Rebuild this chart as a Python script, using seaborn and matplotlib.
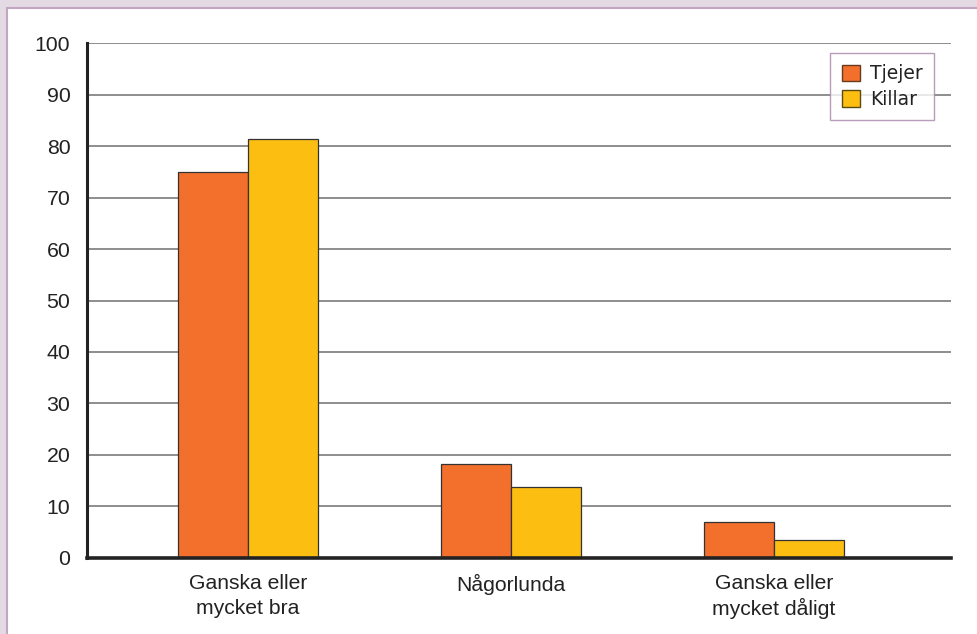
import numpy as np
import pandas as pd
import matplotlib
matplotlib.use("Agg")
import matplotlib.pyplot as plt
import matplotlib.patches as mpatches
import seaborn as sns

categories = ["Ganska eller\nmycket bra", "Någorlunda", "Ganska eller\nmycket dåligt"]
tjejer = [75, 18.2, 6.9]
killar = [81.3, 13.7, 3.4]
series = ["Tjejer", "Killar"]
yticks = [0, 10, 20, 30, 40, 50, 60, 70, 80, 90, 100]

ORANGE = "#f26f2c"
YELLOW = "#fdbe12"
EDGE = "#333333"
BG = "#e4dae4"
FRAME = "#c2a6c2"

sns.set_style("white")
plt.rcParams["font.family"] = ["Liberation Sans", "DejaVu Sans"]

df = pd.DataFrame({
    "kategori": categories * 2,
    "grupp": [series[0]] * 3 + [series[1]] * 3,
    "varde": tjejer + killar,
})

fig = plt.figure(figsize=(9.77, 6.34), dpi=100, facecolor=BG)
# white panel with thin mauve border
fig.patches.append(mpatches.Rectangle((7 / 977, -0.05), 1.1, (634 - 8) / 634 + 0.05,
                                      transform=fig.transFigure, facecolor="white",
                                      edgecolor=FRAME, lw=1.5, zorder=-5))

ax = fig.add_axes([87 / 977, (634 - 557.7) / 634, (951 - 87) / 977, 514.4 / 634])
ax.set_facecolor("none")
ax.set_zorder(2)

sns.barplot(data=df, x="kategori", y="varde", hue="grupp", ax=ax,
            palette=[ORANGE, YELLOW], saturation=1, width=0.532, gap=0,
            edgecolor=EDGE, linewidth=0.9, zorder=3)

ax.set_ylim(0, 100)
ax.set_xlim(-0.612, 2.673)
ax.set_yticks(yticks)
ax.set_yticklabels([str(t) for t in yticks], fontsize=15.3, color="#222222")
ax.tick_params(axis="y", length=0, pad=12)
ax.tick_params(axis="x", length=0, pad=12, labelsize=15.2, labelcolor="#222222")
for lbl in ax.get_xticklabels():
    lbl.set_linespacing(1.25 if "å" in lbl.get_text() and "\n" in lbl.get_text() else 1.4)
ax.set_xlabel("")
ax.set_ylabel("")

for t in yticks[1:]:
    ax.axhline(t, color="#7a7a7a", lw=1.2, zorder=1)

for s in ["top", "right"]:
    ax.spines[s].set_visible(False)
ax.spines["left"].set_color("#222222")
ax.spines["left"].set_linewidth(2.2)
ax.spines["bottom"].set_color("#222222")
ax.spines["bottom"].set_linewidth(2.6)
ax.spines["left"].set_zorder(5)
ax.spines["bottom"].set_zorder(5)

handles = [mpatches.Patch(facecolor=ORANGE, edgecolor="#6b3a1e", lw=1, label=series[0]),
           mpatches.Patch(facecolor=YELLOW, edgecolor="#5a4a10", lw=1, label=series[1])]
leg = ax.legend(handles=handles, loc="upper right", bbox_to_anchor=(0.980, 0.981),
                borderaxespad=0, frameon=True, fancybox=False,
                handlelength=1.0, handleheight=1.0, handletextpad=0.5,
                labelspacing=0.35, borderpad=0.6,
                prop={"family": "DejaVu Sans", "size": 13.5})
leg.get_frame().set_edgecolor("#a884a8")
leg.get_frame().set_linewidth(1.0)
leg.set_zorder(6)
for t in leg.get_texts():
    t.set_color("#222222")

fig.savefig("out.png", dpi=100, facecolor=BG)
